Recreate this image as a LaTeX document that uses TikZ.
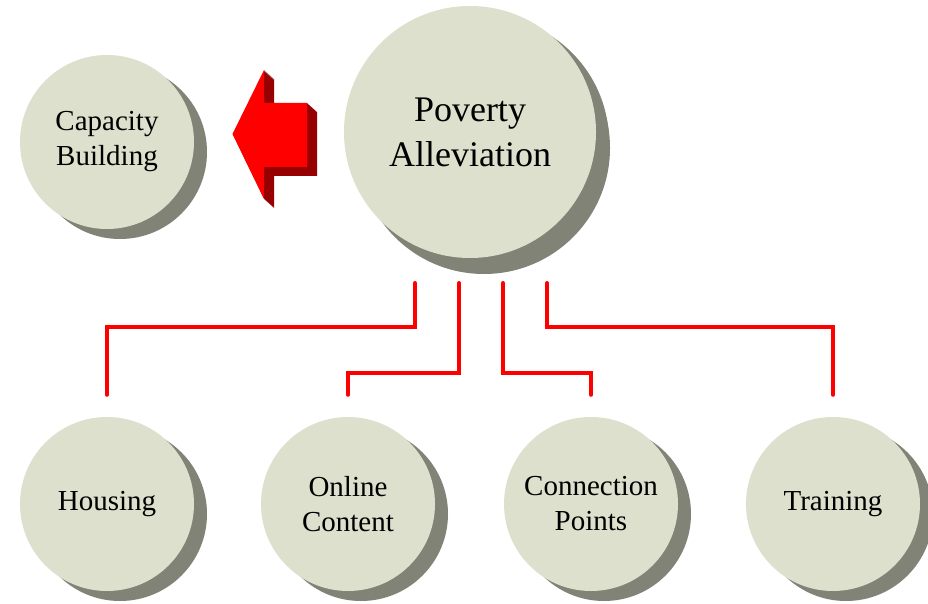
\documentclass[tikz,border=0pt]{standalone}
\usepackage{fontspec}
\setmainfont{Liberation Serif}
\usetikzlibrary{shadows}
\definecolor{ballfill}{RGB}{221,224,204}
\definecolor{ballshadow}{RGB}{128,131,118}
\definecolor{linered}{RGB}{255,0,0}
\definecolor{arrowdark}{RGB}{150,0,0}
\tikzset{
  ball/.style={circle, fill=ballfill, minimum size=174pt, inner sep=0pt, align=center,
    font=\fontsize{29}{35}\selectfont,
    general shadow={fill=ballshadow, shadow xshift=13pt, shadow yshift=-10pt}},
  bigball/.style={ball, minimum size=252pt, font=\fontsize{36}{45}\selectfont,
    general shadow={fill=ballshadow, shadow xshift=14pt, shadow yshift=-16pt}},
  redline/.style={draw=linered, line width=4pt, line cap=round}
}
\begin{document}
\begin{tikzpicture}[x=1pt,y=-1pt]
\useasboundingbox (0,0) rectangle (928,604);
\fill[white] (0,0) rectangle (928,604);

\node[bigball] (pov) at (470,132) {Poverty\\Alleviation};
\node[ball] (cap) at (107,142) {Capacity\\Building};
\node[ball] (hou) at (107,504) {Housing};
\node[ball] (onl) at (348,504) {Online\\Content};
\node[ball] (con) at (591,504) {Connection\\Points};
\node[ball] (tra) at (833,504) {Training};

% connectors
\coordinate (p1) at (415,283);
\coordinate (p2) at (459,283);
\coordinate (p3) at (503,283);
\coordinate (p4) at (547,283);
\draw[redline] (p1) -- ++(0,44) -| ([yshift=22pt]hou.north);
\draw[redline] (p2) -- ++(0,90) -| ([yshift=22pt]onl.north);
\draw[redline] (p3) -- ++(0,90) -| ([yshift=22pt]con.north);
\draw[redline] (p4) -- ++(0,44) -| ([yshift=22pt]tra.north);

% 3D arrow pointing to Capacity Building
\foreach \d in {10,9.5,...,0.5}{
  \fill[arrowdark] ([shift={(\d,0.9*\d)}]232.5,134) -- ([shift={(\d,0.9*\d)}]264,70) -- ([shift={(\d,0.9*\d)}]264,103)
    -- ([shift={(\d,0.9*\d)}]307,103) -- ([shift={(\d,0.9*\d)}]307,167) -- ([shift={(\d,0.9*\d)}]264,167)
    -- ([shift={(\d,0.9*\d)}]264,199) -- cycle;
}
\fill[linered] (232.5,134) -- (264,70) -- (264,103) -- (307,103) -- (307,167) -- (264,167) -- (264,199) -- cycle;
\end{tikzpicture}
\end{document}
